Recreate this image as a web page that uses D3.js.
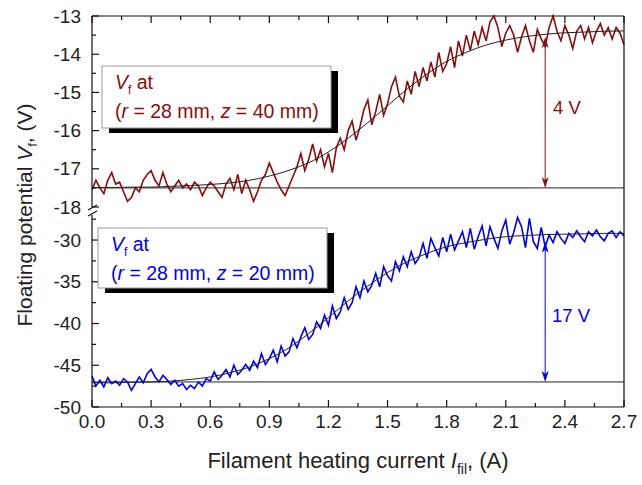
<!DOCTYPE html>
<html>
<head>
<meta charset="utf-8">
<script src="https://cdn.jsdelivr.net/npm/d3@7"></script>
<style>
  body { margin: 0; background: #fff; }
  text { font-family: Arial, "Liberation Sans", sans-serif; }
</style>
</head>
<body>
<script>
// measured floating potential, sampled every 0.02 A from 0 to 2.7 A
const step = 0.02
const vfZ40 = [
  -17.55, -17.3, -17.5, -17.65, -17.3, -17.1, -17.4, -17.35, -17.6, -17.85,
  -17.75, -17.5, -17.6, -17.3, -17.15, -17.05, -17.3, -17.45, -17.1, -17.4,
  -17.6, -17.45, -17.3, -17.5, -17.4, -17.55, -17.35, -17.45, -17.7, -17.5,
  -17.35, -17.45, -17.6, -17.75, -17.4, -17.25, -17.55, -17.15, -17.65, -17.3,
  -17.55, -17.85, -17.6, -17.3, -17.15, -16.85, -17.1, -17.35, -17.55, -17.7,
  -17.45, -17.2, -16.95, -16.6, -17.05, -16.75, -16.35, -16.8, -16.5, -16.95,
  -16.6, -17.1, -16.45, -16.2, -16.5, -16.0, -15.75, -16.25, -15.9, -15.45,
  -15.2, -15.85, -15.5, -15.05, -15.6, -15.3, -14.85, -14.6, -15.1, -15.25,
  -14.7, -15.05, -14.45, -14.85, -14.35, -14.7, -14.2, -14.6, -13.95, -14.45,
  -14.25, -13.8, -14.35, -13.65, -14.05, -13.5, -13.9, -13.4, -13.75, -13.3,
  -13.65, -13.15, -13.0, -13.3, -13.8, -13.45, -13.25, -13.5, -13.95, -13.55,
  -13.25, -13.65, -13.95, -13.35, -13.6, -13.8, -13.3, -13.0, -13.4, -13.65,
  -13.25, -13.5, -13.85, -13.4, -13.25, -13.6, -13.3, -13.7, -13.4, -13.2,
  -13.5, -13.3, -13.6, -13.3, -13.45, -13.75
]
const vfZ20 = [
  -46.3, -47.5, -46.8, -47.6, -46.5, -47.2, -46.9, -47.4, -46.6, -47.0,
  -48.0, -47.2, -46.4, -47.1, -46.0, -45.5, -46.4, -47.0, -46.2, -46.7,
  -47.3, -46.8, -47.5, -47.2, -47.9, -47.4, -47.8, -47.0, -47.5, -46.6,
  -46.9, -45.8, -46.7, -46.2, -45.5, -46.4, -45.0, -46.1, -45.6, -44.9,
  -45.6, -44.5, -45.3, -43.6, -44.9, -44.2, -43.2, -44.6, -42.7, -43.9,
  -43.4, -41.8, -42.9, -41.6, -40.5, -41.9, -41.3, -39.8, -40.6, -39.0,
  -40.2, -37.9, -39.4, -38.6, -36.9, -38.3, -37.5, -35.6, -36.9, -34.9,
  -36.2, -35.4, -34.0, -35.6, -33.2, -34.3, -34.9, -32.6, -33.7, -32.0,
  -33.2, -31.4, -32.8, -32.1, -30.4, -32.2, -29.8, -30.9, -31.9, -29.7,
  -31.4, -29.3, -31.2, -30.1, -29.0, -30.9, -28.6, -31.1, -29.6, -28.3,
  -30.7, -28.4, -29.8, -31.0, -28.9, -27.6, -30.5, -29.1, -27.3, -28.4,
  -30.9, -27.4, -30.2, -31.0, -28.5, -30.8, -29.4, -30.3, -29.0, -29.8,
  -30.4, -29.2, -29.7, -28.9, -29.6, -30.2, -29.0, -29.5, -28.8, -29.6,
  -30.1, -29.2, -28.9, -29.7, -29.0, -29.5
]

// fitted curves every 0.1 A
const fitI = [0, 0.1, 0.2, 0.3, 0.4, 0.5, 0.6, 0.7, 0.8, 0.9, 1.0, 1.1, 1.2, 1.3,
  1.4, 1.5, 1.6, 1.7, 1.8, 1.9, 2.0, 2.1, 2.2, 2.3, 2.4, 2.5, 2.6, 2.7]
const fitZ40 = [-17.49, -17.49, -17.48, -17.48, -17.46, -17.44, -17.41, -17.37, -17.3, -17.19,
  -17.04, -16.84, -16.56, -16.2, -15.79, -15.35, -14.91, -14.52, -14.19, -13.95,
  -13.76, -13.63, -13.54, -13.48, -13.44, -13.42, -13.4, -13.39]
const fitZ20 = [-47.1, -47.1, -47.05, -47.0, -46.9, -46.7, -46.4, -45.9, -45.2, -44.2,
  -42.9, -41.2, -39.3, -37.3, -35.5, -33.9, -32.6, -31.6, -30.8, -30.3,
  -29.9, -29.6, -29.45, -29.35, -29.3, -29.25, -29.2, -29.2]

const xTicks = [0, 0.3, 0.6, 0.9, 1.2, 1.5, 1.8, 2.1, 2.4, 2.7]
const yTicksTop = [-13, -14, -15, -16, -17, -18]
const yTicksBot = [-30, -35, -40, -45, -50]
const baseZ40 = -17.5, baseZ20 = -47
const arrowAt = 2.3
const arrowZ40 = [-13.55, -17.5], arrowZ20 = [-30.2, -47]

const red = '#8b0d0d', blue = '#0000f0'

const W = 642, H = 485
const pL = 92, pR = 624, pT = 16, pB = 407

const svg = d3.select('body').append('svg')
  .attr('width', W)
  .attr('height', H)

const x = d3.scaleLinear().domain([0, 2.7]).range([pL, pR])
const yTop = d3.scaleLinear().domain([-18, -13]).range([207, pT])
const yBot = d3.scaleLinear().domain([-50, -27]).range([pB, 215])

// baselines
svg.append('line').attr('x1', pL).attr('x2', pR)
  .attr('y1', yTop(baseZ40)).attr('y2', yTop(baseZ40))
  .attr('stroke', '#222').attr('stroke-width', 1)
svg.append('line').attr('x1', pL).attr('x2', pR)
  .attr('y1', yBot(baseZ20)).attr('y2', yBot(baseZ20))
  .attr('stroke', '#222').attr('stroke-width', 1)

// data traces
const trace = (vals, y) => d3.line()
  .x((d, i) => x(i * step))
  .y(d => y(d))(vals)

svg.append('path').attr('d', trace(vfZ40, yTop))
  .attr('fill', 'none').attr('stroke', red).attr('stroke-width', 1.6)
svg.append('path').attr('d', trace(vfZ20, yBot))
  .attr('fill', 'none').attr('stroke', blue).attr('stroke-width', 1.6)

// fits
const fit = (vals, y) => d3.line()
  .curve(d3.curveNatural)
  .x((d, i) => x(fitI[i]))
  .y(d => y(d))(vals)

svg.append('path').attr('d', fit(fitZ40, yTop))
  .attr('fill', 'none').attr('stroke', '#222').attr('stroke-width', 1)
svg.append('path').attr('d', fit(fitZ20, yBot))
  .attr('fill', 'none').attr('stroke', '#222').attr('stroke-width', 1)

// double arrows
const head = 'M0,0 L-3.5,-11 L0,-8 L3.5,-11 Z'
const drawArrow = (ends, y, color, label, lx, ly) => {
  const ax = x(arrowAt), y1 = y(ends[0]), y2 = y(ends[1])
  svg.append('line').attr('x1', ax).attr('x2', ax).attr('y1', y1 + 3).attr('y2', y2 - 3)
    .attr('stroke', color).attr('stroke-width', 1)
  svg.append('path').attr('d', head).attr('fill', color)
    .attr('transform', `translate(${ax},${y2})`)
  svg.append('path').attr('d', head).attr('fill', color)
    .attr('transform', `translate(${ax},${y1}) rotate(180)`)
  svg.append('text').attr('x', lx).attr('y', ly)
    .attr('fill', color).style('font-size', '18.5px').text(label)
}
drawArrow(arrowZ40, yTop, red, '4 V', 553, 114)
drawArrow(arrowZ20, yBot, blue, '17 V', 552, 322)

// frame
const frame = svg.append('g').attr('stroke', '#111').attr('stroke-width', 1.2).attr('fill', 'none')
frame.append('line').attr('x1', pL).attr('x2', pR).attr('y1', pT).attr('y2', pT)
frame.append('line').attr('x1', pL).attr('x2', pR).attr('y1', pB).attr('y2', pB)
frame.append('line').attr('x1', pR).attr('x2', pR).attr('y1', pT).attr('y2', pB)
frame.append('line').attr('x1', pL).attr('x2', pL).attr('y1', pT).attr('y2', yTop(-18))
frame.append('line').attr('x1', pL).attr('x2', pL).attr('y1', yBot(-27)).attr('y2', pB)
// axis break marks
frame.append('line').attr('x1', pL - 4).attr('x2', pL + 5).attr('y1', 210).attr('y2', 205)
frame.append('line').attr('x1', pL - 4).attr('x2', pL + 5).attr('y1', 216).attr('y2', 211)

// x ticks (bottom labelled, top mirrored), pointing inward
const xMinor = xTicks.slice(0, -1).map(d => d + 0.15)
const tk = svg.append('g').attr('stroke', '#111').attr('stroke-width', 1.2)
xTicks.forEach(d => {
  tk.append('line').attr('x1', x(d)).attr('x2', x(d)).attr('y1', pB).attr('y2', pB - 7)
  tk.append('line').attr('x1', x(d)).attr('x2', x(d)).attr('y1', pT).attr('y2', pT + 7)
})
xMinor.forEach(d => {
  tk.append('line').attr('x1', x(d)).attr('x2', x(d)).attr('y1', pB).attr('y2', pB - 4)
  tk.append('line').attr('x1', x(d)).attr('x2', x(d)).attr('y1', pT).attr('y2', pT + 4)
})
yTicksTop.forEach(d => {
  tk.append('line').attr('x1', pL).attr('x2', pL + 7).attr('y1', yTop(d)).attr('y2', yTop(d))
  if (d > -18) tk.append('line').attr('x1', pL).attr('x2', pL + 4)
    .attr('y1', yTop(d - 0.5)).attr('y2', yTop(d - 0.5))
})
yTicksBot.forEach(d => {
  tk.append('line').attr('x1', pL).attr('x2', pL + 7).attr('y1', yBot(d)).attr('y2', yBot(d))
  if (d > -50) tk.append('line').attr('x1', pL).attr('x2', pL + 4)
    .attr('y1', yBot(d - 2.5)).attr('y2', yBot(d - 2.5))
})
tk.append('line').attr('x1', pL).attr('x2', pL + 4)
  .attr('y1', yBot(-27.5)).attr('y2', yBot(-27.5))

// tick labels
const fmt = d3.format('.1f')
svg.append('g').selectAll('text').data(xTicks).enter().append('text')
  .attr('x', d => x(d)).attr('y', 428)
  .attr('text-anchor', 'middle').style('font-size', '19px').attr('fill', '#222')
  .text(fmt)
svg.append('g').selectAll('text').data(yTicksTop).enter().append('text')
  .attr('x', 81).attr('y', d => yTop(d) + 6.5)
  .attr('text-anchor', 'end').style('font-size', '19px').attr('fill', '#222')
  .text(d => String(d))
svg.append('g').selectAll('text').data(yTicksBot).enter().append('text')
  .attr('x', 81).attr('y', d => yBot(d) + 6.5)
  .attr('text-anchor', 'end').style('font-size', '19px').attr('fill', '#222')
  .text(d => String(d))

// axis titles
const xt = svg.append('text').attr('x', 358).attr('y', 468)
  .attr('text-anchor', 'middle').style('font-size', '22px').attr('fill', '#222')
xt.append('tspan').text('Filament heating current ')
xt.append('tspan').style('font-style', 'italic').text('I')
xt.append('tspan').attr('dy', 6).style('font-size', '14px').text('fil')
xt.append('tspan').attr('dy', -6).text(', (A)')

const yt = svg.append('text').attr('transform', 'translate(32,215) rotate(-90)')
  .attr('text-anchor', 'middle').style('font-size', '21px').attr('fill', '#222')
yt.append('tspan').text('Floating potential ')
yt.append('tspan').style('font-style', 'italic').text('V')
yt.append('tspan').attr('dy', 5).style('font-size', '13px').text('f')
yt.append('tspan').attr('dy', -5).text(', (V)')

// legend boxes with drop shadow
const legend = (bx, by, bw, bh, color, zval) => {
  const g = svg.append('g')
  g.append('rect').attr('x', bx + 7).attr('y', by + 5).attr('width', bw).attr('height', bh).attr('fill', '#000')
  g.append('rect').attr('x', bx).attr('y', by).attr('width', bw).attr('height', bh)
    .attr('fill', '#fff').attr('stroke', '#999').attr('stroke-width', 1)
  const t1 = g.append('text').attr('x', bx + 13).attr('y', by + 23)
    .attr('fill', color).style('font-size', '19.5px')
  t1.append('tspan').style('font-style', 'italic').text('V')
  t1.append('tspan').attr('dy', 5).style('font-size', '12px').text('f')
  t1.append('tspan').attr('dy', -5).text(' at')
  const t2 = g.append('text').attr('x', bx + 13).attr('y', by + 52)
    .attr('fill', color).style('font-size', '19.5px')
  t2.append('tspan').text('(')
  t2.append('tspan').style('font-style', 'italic').text('r')
  t2.append('tspan').text(' = 28 mm, ')
  t2.append('tspan').style('font-style', 'italic').text('z')
  t2.append('tspan').text(` = ${zval} mm)`)
}
legend(102, 66, 229, 62, red, 40)
legend(98, 228, 229, 60, blue, 20)
</script>
</body>
</html>
